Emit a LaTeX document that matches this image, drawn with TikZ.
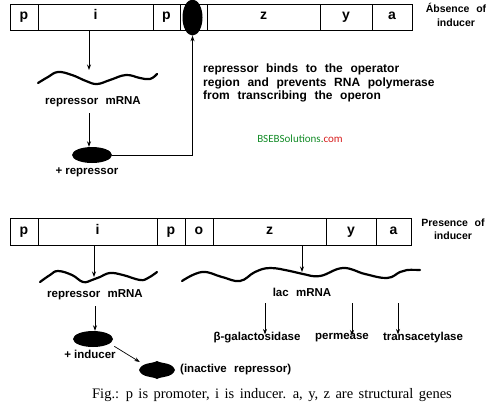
\documentclass[tikz,border=0pt]{standalone}
\usepackage{fontspec}
\setmainfont{Liberation Sans}[WordSpace=2.3]
\newfontfamily\capfont{Liberation Serif}[WordSpace=1.5]
\newfontfamily\wmfont{Carlito}
\usetikzlibrary{arrows.meta,shapes.geometric}
\definecolor{wmgreen}{RGB}{20,140,40}
\definecolor{wmred}{RGB}{215,30,30}
\begin{document}
\begin{tikzpicture}[x=1pt,y=-1pt,
  cell/.style={draw, line width=0.9pt, inner sep=0pt, text height=8pt, text depth=3pt, font=\bfseries\fontsize{14}{16}\selectfont},
  lab/.style={font=\bfseries\fontsize{11.5}{13.5}\selectfont, inner sep=0pt},
  side/.style={font=\bfseries\fontsize{10.5}{13.5}\selectfont, inner sep=0pt, align=center},
  arr/.style={-{Stealth[length=5.5pt,width=4pt]}, line width=0.7pt},
  conn/.style={line width=0.8pt},
  wave/.style={line width=2.2pt, line cap=round, line join=round},
  blob/.style={fill=black, ellipse, inner sep=0pt}]
\useasboundingbox (0,0) rectangle (503,408);
% ---------- top operon (absence of inducer)
\node[cell,minimum width=28pt,minimum height=26pt] (tp1) at (24,17) {p};
\node[cell,minimum width=115pt,minimum height=26pt] (ti) at (95.5,17) {i};
\node[cell,minimum width=27pt,minimum height=26pt] (tp2) at (166.5,17) {p};
\node[cell,minimum width=27pt,minimum height=26pt] (to) at (193.5,17) {};
\node[cell,minimum width=113pt,minimum height=26pt] (tz) at (263.5,17) {z};
\node[cell,minimum width=52pt,minimum height=26pt] (ty) at (346,17) {y};
\node[cell,minimum width=40pt,minimum height=26pt] (ta) at (392,17) {a};
\node[blob, minimum width=20pt, minimum height=36pt] (top) at (192.5,17.5) {};
\node[side] (abs) at (456,15) {Ábsence of\\inducer};
% repressor mRNA (top)
\draw[wave] plot[smooth, tension=0.7] coordinates {(38,83) (48,77) (58,72) (72,75) (86,81) (97,84) (110,80) (126,75) (140,78) (150,79) (157,74)};
\coordinate (tw) at (89,70);
\draw[arr] ([xshift=-6.5pt]ti.south) -- (tw);
\node[lab] (rm1) at (93,102) {repressor mRNA};
\node[blob, minimum width=40pt, minimum height=16pt] (r1) at (92,155) {};
\draw[arr] ([yshift=-6pt]rm1.south -| 89,0) -- (r1.north -| 89,0);
\node[lab] (plr) at (87,172) {+\hspace{3pt}repressor};
\draw[arr,conn] (r1.east) -| (top.south);
\node[lab, font=\bfseries\fontsize{12}{13.5}\selectfont, anchor=north west, align=left] (txt) at (203,64) {repressor binds to the operator\\region and prevents RNA polymerase\\from transcribing the operon};
\node[font=\wmfont\fontsize{11}{12}\selectfont, inner sep=0pt] (wm) at (300,139) {\textcolor{wmgreen}{BSEBSolutions.}\textcolor{wmred}{com}};
% ---------- bottom operon (presence of inducer)
\node[cell,minimum width=28pt,minimum height=27pt] (bp1) at (24,231.5) {p};
\node[cell,minimum width=119pt,minimum height=27pt] (bi) at (97.5,231.5) {i};
\node[cell,minimum width=28pt,minimum height=27pt] (bp2) at (171,231.5) {p};
\node[cell,minimum width=28pt,minimum height=27pt] (bo) at (199,231.5) {o};
\node[cell,minimum width=113pt,minimum height=27pt] (bz) at (269.5,231.5) {z};
\node[cell,minimum width=50pt,minimum height=27pt] (by) at (351,231.5) {y};
\node[cell,minimum width=35pt,minimum height=27pt] (ba) at (393.5,231.5) {a};
\node[side] (pres) at (453,229) {Presence of\\inducer};
% repressor mRNA (bottom)
\draw[wave] plot[smooth, tension=0.7] coordinates {(40,282) (50,275) (58,271) (72,275) (83,282) (92,280) (100,277) (110,273) (123,275) (140,280) (148,278) (157,272)};
\coordinate (bw) at (94,277);
\draw[arr] ([xshift=-3.5pt]bi.south) -- (bw);
\node[lab] (rm2) at (95,295) {repressor mRNA};
\node[blob, minimum width=40pt, minimum height=16pt] (r2) at (93,339) {};
\draw[arr] ([yshift=-6pt]rm2.south -| 95,0) -- (r2.north -| 95,0);
\node[lab] (pli) at (90,354) {+\hspace{3pt}inducer};
\fill (139,370) .. controls (142,362) and (152,364) .. (157,361) .. controls (162,364) and (172,362) .. (175,370) .. controls (172,378) and (162,376) .. (157,379) .. controls (152,376) and (142,378) .. (139,370) -- cycle;
\node[minimum width=36pt, minimum height=18pt, inner sep=0pt] (inact) at (157,370) {};
\draw[arr] ([shift={(7,1.5)}]r2.south east) -- ([shift={(1,-8)}]inact.west);
\node[lab, anchor=west] (inl) at (180,370) {(inactive repressor)};
% lac mRNA
\draw[wave] plot[smooth, tension=0.7] coordinates {(182,281) (202,272) (222,277) (240,281) (255,272) (270,268) (290,271) (303,274) (320,276) (343,268) (365,274) (387,278) (400,272) (407,270) (420,270)};
\coordinate (lw) at (302,272);
\draw[arr] (bz.south -| lw) -- (lw);
\node[lab] (lac) at (302,292) {lac mRNA};
\node[lab] (gal) at (257,338) {β-galactosidase};
\node[lab] (per) at (342,338) {permease};
\node[lab] (tra) at (423,338) {transacetylase};
\coordinate (l1) at (265,303);
\coordinate (l2) at (352,303);
\coordinate (l3) at (398,303);
\draw[arr] (l1) -- ([yshift=-2pt]gal.north -| l1);
\draw[arr] (l2) -- ([yshift=-2pt]per.north -| l2);
\draw[arr] (l3) -- ([yshift=-2pt]tra.north -| l3);
% caption
\node[font=\capfont\fontsize{14.5}{16}\selectfont, inner sep=0pt] (cap) at (272,395) {Fig.: p is promoter, i is inducer. a, y, z are structural genes};
\end{tikzpicture}
\end{document}
